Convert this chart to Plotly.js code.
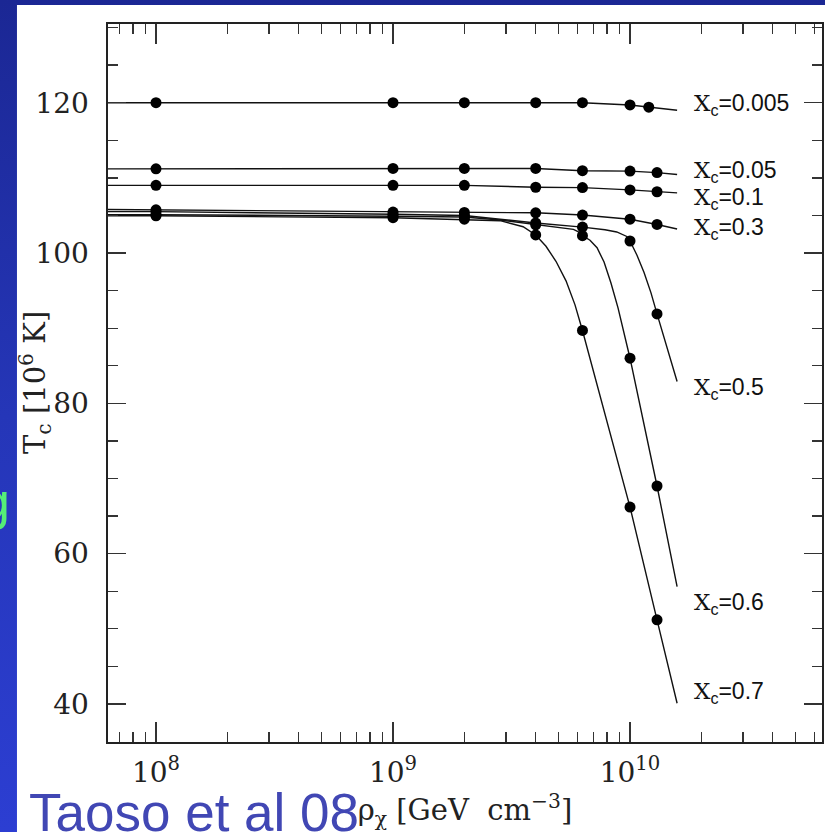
<!DOCTYPE html>
<html>
<head>
<meta charset="utf-8">
<script src="https://cdn.plot.ly/plotly-3.0.1.min.js"></script>
<style>
html, body { margin:0; padding:0; width:825px; height:832px; overflow:hidden;
  background: linear-gradient(to bottom, #1b2794 0%, #2536b8 50%, #2c3ed2 100%); }
#chart { width:825px; height:832px; }
</style>
</head>
<body>
<div id="chart"></div>
<script>
// ---- data ----
// dot positions (rho in GeV cm^-3, Tc in 10^6 K)
const rhoDots    = [1e8, 1e9, 2e9, 4e9, 6.3e9, 1e10, 1.3e10];
const rhoDots005 = [1e8, 1e9, 2e9, 4e9, 6.3e9, 1e10, 1.2e10];
const tDots005 = [120, 120, 120, 120, 120, 119.7, 119.4];
const tDots05  = [111.2, 111.25, 111.25, 111.25, 110.95, 110.9, 110.7];
const tDots1   = [109.0, 109.0, 109.0, 108.75, 108.7, 108.4, 108.15];
const tDots3   = [105.75, 105.45, 105.4, 105.35, 105.05, 104.5, 103.8];
const tDots5   = [105.5, 105.15, 105.0, 104.0, 103.45, 101.6, 91.9];
const tDots6   = [105.1, 104.9, 104.8, 103.75, 102.3, 86.0, 69.0];
const tDots7   = [104.95, 104.7, 104.5, 102.4, 89.7, 66.2, 51.2];

// curve paths
const rhoLine005 = [6e7, 1e8, 1e9, 2e9, 4e9, 6.3e9, 1e10, 1.2e10, 1.58e10];
const tLine005   = [120, 120, 120, 120, 120, 120, 119.7, 119.4, 119.0];
const rhoLineFlat = [6e7, 1e8, 1e9, 2e9, 4e9, 6.3e9, 1e10, 1.3e10, 1.58e10];
const tLine05 = [111.2, 111.2, 111.25, 111.25, 111.25, 110.95, 110.9, 110.7, 110.45];
const tLine1  = [109.0, 109.0, 109.0, 109.0, 108.75, 108.7, 108.4, 108.15, 108.0];
const tLine3  = [105.8, 105.75, 105.45, 105.4, 105.35, 105.05, 104.5, 103.8, 103.2];
const rhoLine5 = [6e7, 1e8, 1e9, 2e9, 2.83e9, 4e9, 6.3e9, 7.84e9, 8.79e9, 9.69e9, 1e10, 1.07e10, 1.146e10, 1.226e10, 1.3e10, 1.58e10];
const tLine5   = [105.5, 105.5, 105.15, 105.0, 104.5, 104.0, 103.45, 103.1, 102.8, 102.2, 101.6, 99.7, 97.4, 94.7, 91.9, 82.9];
const rhoLine6 = [6e7, 1e8, 1e9, 2e9, 2.83e9, 4e9, 5.77e9, 6.03e9, 6.3e9, 6.78e9, 7.26e9, 7.77e9, 8.31e9, 8.9e9, 9.43e9, 1e10, 1.3e10, 1.58e10];
const tLine6   = [105.1, 105.1, 104.9, 104.8, 104.4, 103.75, 103.15, 102.86, 102.3, 101.7, 100.7, 98.8, 96.0, 92.7, 89.4, 86.0, 69.0, 55.6];
const rhoLine7 = [6e7, 1e8, 1e9, 2e9, 2.83e9, 3.54e9, 4e9, 4.42e9, 4.87e9, 5.37e9, 5.86e9, 6.3e9, 1e10, 1.3e10, 1.58e10];
const tLine7   = [104.95, 104.95, 104.7, 104.5, 104.3, 103.5, 102.4, 100.9, 98.9, 96.3, 93.1, 89.7, 66.2, 51.2, 40.1];

// curve labels
const labelNames = ['0.005', '0.05', '0.1', '0.3', '0.5', '0.6', '0.7'];
const labelT     = [119.7, 110.8, 107.3, 103.3, 82.0, 53.4, 41.5];
const labelRho   = 1.83e10;

// axes ticks
const xTickVals  = [1e8, 1e9, 1e10];
const xTickText  = ['10<sup>8</sup>', '10<sup>9</sup>', '10<sup>10</sup>'];
const xMinorVals = [7e7, 8e7, 9e7, 2e8, 3e8, 4e8, 5e8, 6e8, 7e8, 8e8, 9e8,
                    2e9, 3e9, 4e9, 5e9, 6e9, 7e9, 8e9, 9e9, 2e10, 3e10, 4e10, 5e10, 6e10];
const yTickVals  = [40, 60, 80, 100, 120];

// ---- traces ----
const series = [
  {lx: rhoLine005, ly: tLine005, dx: rhoDots005, dy: tDots005},
  {lx: rhoLineFlat, ly: tLine05, dx: rhoDots, dy: tDots05},
  {lx: rhoLineFlat, ly: tLine1, dx: rhoDots, dy: tDots1},
  {lx: rhoLineFlat, ly: tLine3, dx: rhoDots, dy: tDots3},
  {lx: rhoLine5, ly: tLine5, dx: rhoDots, dy: tDots5},
  {lx: rhoLine6, ly: tLine6, dx: rhoDots, dy: tDots6},
  {lx: rhoLine7, ly: tLine7, dx: rhoDots, dy: tDots7}
];
const traces = [];
series.forEach(s => {
  traces.push({x: s.lx, y: s.ly, mode: 'lines', type: 'scatter',
    line: {color: '#111', width: 1.4}, hoverinfo: 'skip', showlegend: false});
});
series.forEach(s => {
  traces.push({x: s.dx, y: s.dy, mode: 'markers', type: 'scatter',
    marker: {color: '#000', size: 11}, hoverinfo: 'skip', showlegend: false, cliponaxis: false});
});

const serif = 'DejaVu Serif';
const annotations = labelNames.map((n, i) => ({
  x: Math.log10(labelRho), y: labelT[i], xref: 'x', yref: 'y',
  xanchor: 'left', yanchor: 'middle', showarrow: false,
  text: '<span style="font-family:DejaVu Serif">X</span><sub>c</sub>=' + n,
  font: {family: 'Liberation Sans, Arial', size: 23, color: '#111'}
}));
annotations.push({
  xref: 'paper', yref: 'paper', x: -0.1022, y: 0.5, xanchor: 'center', yanchor: 'middle',
  textangle: -90, showarrow: false,
  text: 'T<sub>c</sub> [10<sup>6</sup> K]',
  font: {family: serif, size: 29, color: '#222'}
});
annotations.push({
  xref: 'paper', yref: 'paper', x: -0.1135, y: -0.0985, xanchor: 'left', yanchor: 'middle',
  showarrow: false, text: 'Taoso et al 08',
  font: {family: 'Liberation Sans, Arial', size: 53, color: '#4147b4'}
});
annotations.push({
  xref: 'paper', yref: 'paper', x: -0.1345, y: 0.335, xanchor: 'right', yanchor: 'middle',
  showarrow: false, text: 'g',
  font: {family: 'Liberation Sans, Arial', size: 52, color: '#55ee77'}
});

const layout = {
  width: 825, height: 832,
  margin: {l: 108, r: 3, t: 24, b: 90},
  paper_bgcolor: 'rgba(0,0,0,0)',
  plot_bgcolor: '#ffffff',
  shapes: [{type: 'rect', xref: 'paper', yref: 'paper', layer: 'below',
    x0: -0.1275, x1: 1.05, y0: -0.2, y1: 1.0265,
    fillcolor: '#ffffff', line: {width: 0}}],
  xaxis: {
    type: 'log', range: [7.7975, 10.810],
    tickvals: xTickVals, ticktext: xTickText,
    ticks: 'inside', ticklen: 20, tickwidth: 1.3, tickcolor: '#333',
    minor: {tickvals: xMinorVals, ticks: 'inside', ticklen: 10, tickwidth: 1.3, tickcolor: '#333'},
    showline: true, linecolor: '#222', linewidth: 1.6, mirror: 'ticks',
    showgrid: false, zeroline: false,
    tickfont: {family: serif, size: 28, color: '#222'},
    ticklabelstandoff: 5,
    title: {text: 'ρ<sub>χ</sub> [GeV\u00a0 cm<sup>−3</sup>]', font: {family: serif, size: 29, color: '#222'}, standoff: 8}
  },
  yaxis: {
    range: [34.94, 130.47],
    tickvals: yTickVals,
    ticks: 'inside', ticklen: 18, tickwidth: 1.3, tickcolor: '#333',
    minor: {dtick: 5, tick0: 0, ticks: 'inside', ticklen: 10, tickwidth: 1.3, tickcolor: '#333'},
    showline: true, linecolor: '#222', linewidth: 1.6, mirror: 'ticks',
    showgrid: false, zeroline: false,
    tickfont: {family: serif, size: 28, color: '#222'},
    ticklabelstandoff: 12
  },
  annotations: annotations
};

Plotly.newPlot('chart', traces, layout, {staticPlot: true, displayModeBar: false});
</script>
</body>
</html>
